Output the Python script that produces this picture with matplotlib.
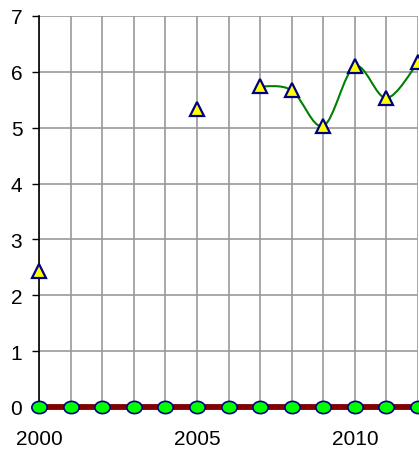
import numpy as np
import matplotlib.pyplot as plt
import matplotlib.transforms as mtransforms
from matplotlib.path import Path
from matplotlib.patches import PathPatch

plt.rcParams['font.family'] = ['Liberation Sans', 'DejaVu Sans']

years = list(range(2000, 2013))
# upper series (gaps where no value)
values = [2.43, None, None, None, None, 5.33, None, 5.74, 5.67, 5.03, 6.10, 5.53, 6.17]
# lower series
zeros = [0] * len(years)


def smooth_path(xs, ys):
    """Bezier path through the points, similar to a smoothed spreadsheet line"""
    pts = np.column_stack([xs, ys])
    n = len(pts)
    verts = [pts[0]]
    codes = [Path.MOVETO]
    for i in range(n - 1):
        p0 = pts[i - 1] if i > 0 else pts[i]
        p1 = pts[i]
        p2 = pts[i + 1]
        p3 = pts[i + 2] if i + 2 < n else pts[i + 1]
        c1 = p1 + (p2 - p0) / 6.0
        c2 = p2 - (p3 - p1) / 6.0
        verts += [c1, c2, p2]
        codes += [Path.CURVE4] * 3
    return Path(verts, codes)


fig = plt.figure(figsize=(4.19, 4.52), dpi=100)
ax = fig.add_axes([39 / 419, 1 - 408 / 452, 379 / 419, 391 / 452])

ax.set_xlim(2000, 2012)
ax.set_ylim(0, 7)
ax.set_xticks(years)
ax.set_xticklabels([str(y) if y % 5 == 0 else '' for y in years])
ax.set_yticks(range(0, 8))

ax.grid(True, color='#999999', linewidth=1.2)
ax.set_axisbelow(True)
for s in ['top', 'right']:
    ax.spines[s].set_visible(False)
ax.spines['left'].set_color('black')
ax.spines['left'].set_linewidth(1.2)
ax.spines['bottom'].set_color('black')

ax.tick_params(axis='y', length=5, width=1, pad=7, labelsize=15)
ax.tick_params(axis='x', length=4, width=1, pad=12, labelsize=15)

# smoothed green line over the continuous run of values
run_x = [y for y, v in zip(years, values) if v is not None and y >= 2007]
run_y = [v for y, v in zip(years, values) if v is not None and y >= 2007]
ax.add_patch(PathPatch(smooth_path(run_x, run_y), facecolor='none',
                       edgecolor='#008000', linewidth=1.5, zorder=3))

px = [y for y, v in zip(years, values) if v is not None]
py = [v for v in values if v is not None]
ax.plot(px, py, linestyle='none', marker='^', markersize=10.5,
        markerfacecolor='#FFFF00', markeredgecolor='#000080',
        markeredgewidth=1.6, clip_on=False, zorder=4)

ellipse = Path.unit_circle().transformed(mtransforms.Affine2D().scale(1.0, 0.8))
ax.plot(years, zeros, color='#800000', linewidth=4.2, clip_on=False, zorder=3)
ax.plot(years, zeros, linestyle='none', marker=ellipse, markersize=11,
        markerfacecolor='#00FF00', markeredgecolor='#000080',
        markeredgewidth=1.2, clip_on=False, zorder=4)

plt.savefig('out.png', dpi=100)
